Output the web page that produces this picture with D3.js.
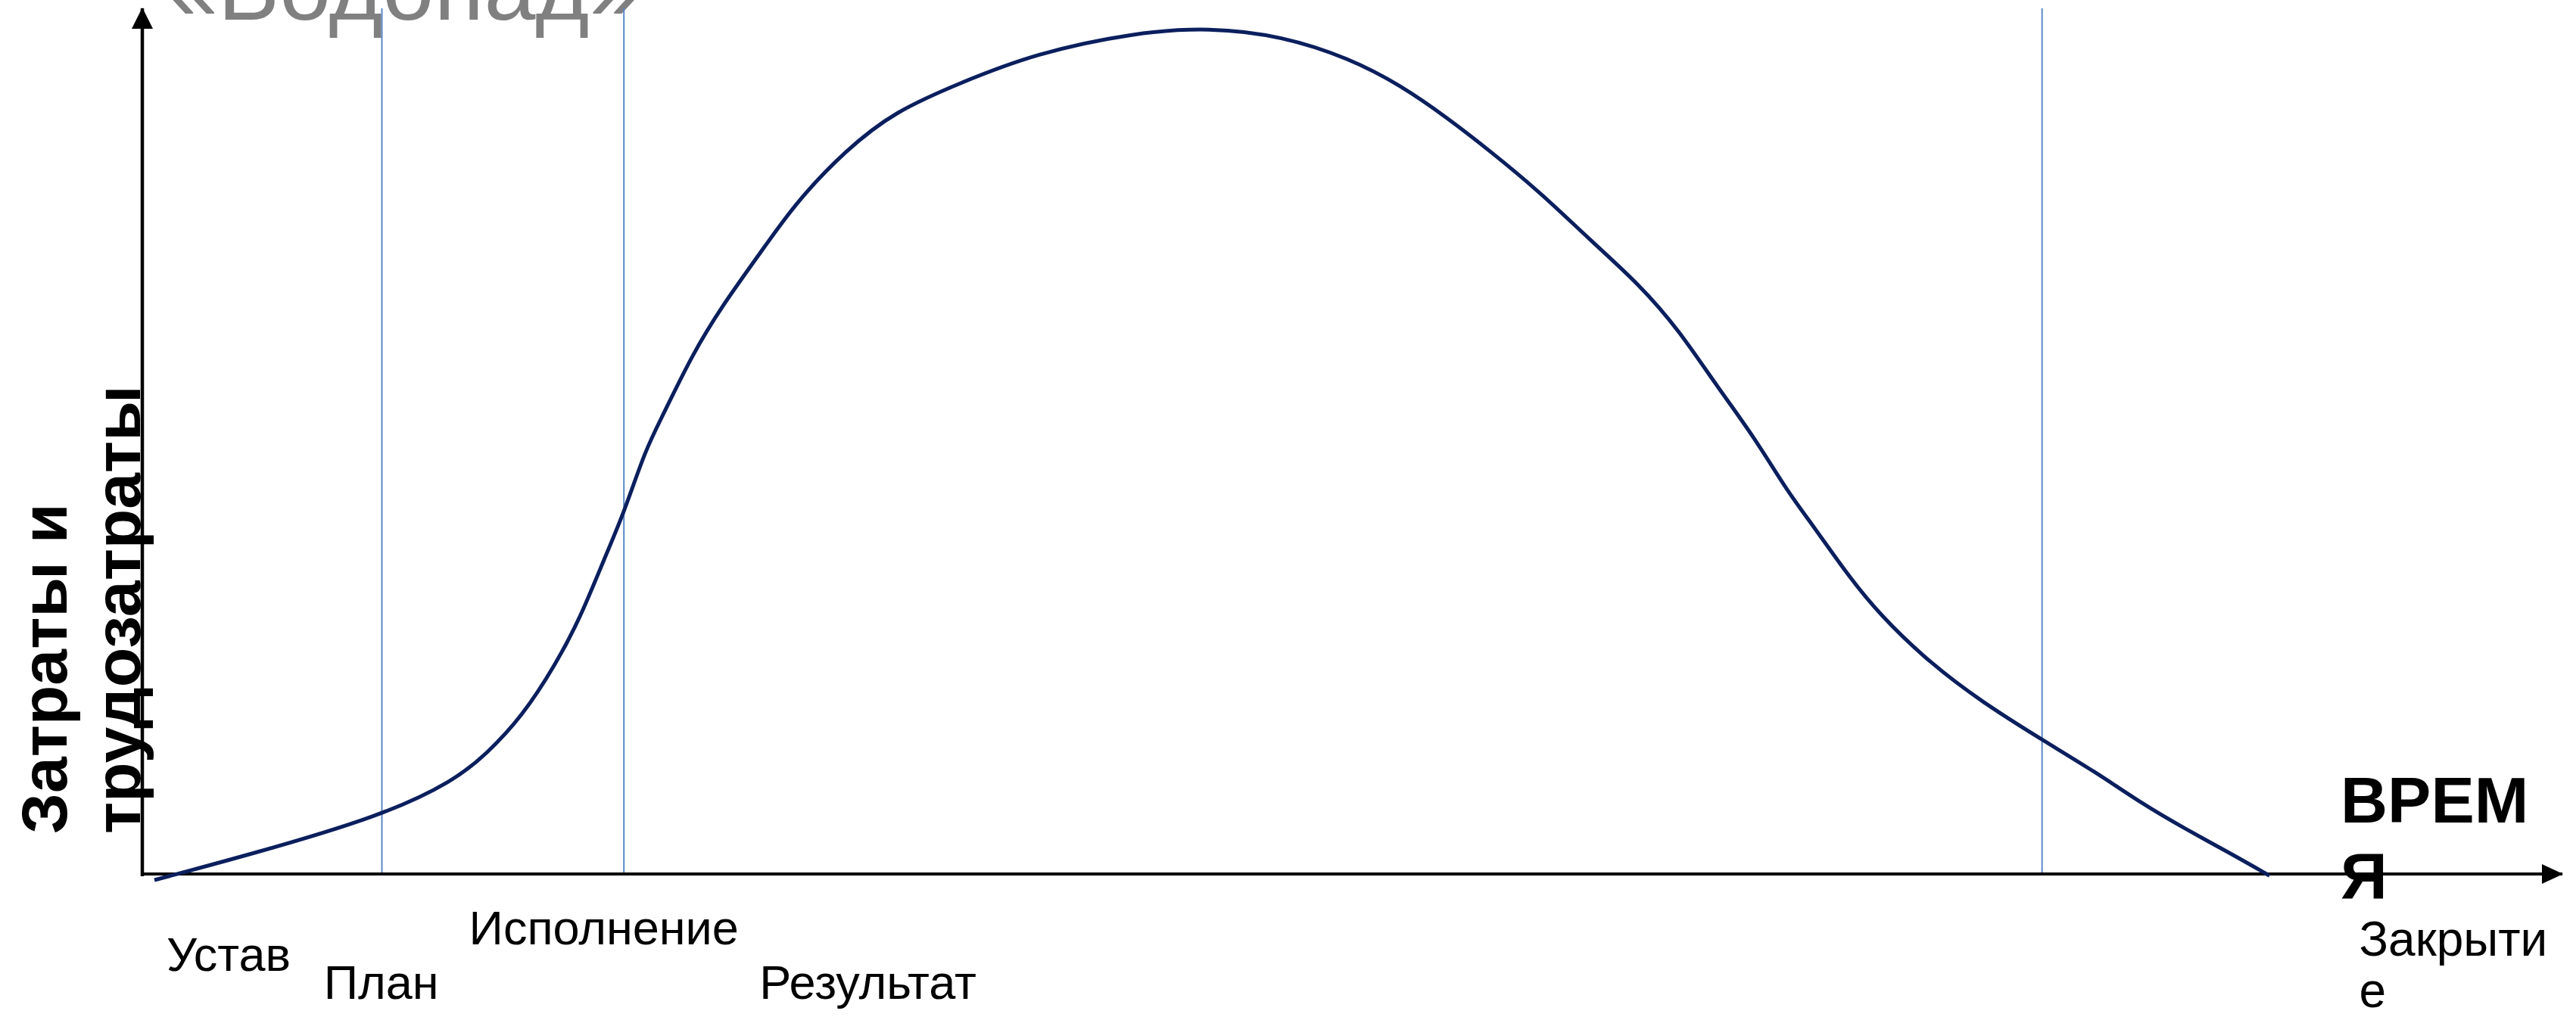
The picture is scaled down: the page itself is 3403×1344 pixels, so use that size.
<!DOCTYPE html>
<html>
<head>
<meta charset="utf-8">
<script src="https://cdn.jsdelivr.net/npm/d3@7"></script>
<style>
  html, body { margin: 0; padding: 0; background: #ffffff; overflow: hidden; }
  svg { display: block; }
</style>
</head>
<body>
<svg id="chart" width="3403" height="1344"></svg>
<script>
// ---------------- DATA ----------------
const chartTitle = "«Водопад»";
const yTitleLines = ["Затраты и", "трудозатраты"];
const xTitleLines = ["ВРЕМ", "Я"];

// time (0..100) along the x axis, effort (0..100) up the y axis
const curveTime   = [0.5, 4.4, 9.9, 12.9, 14.2, 15.7, 17.1, 18.1, 19.1, 19.9, 20.8, 21.5, 22.7, 24.0, 25.4, 27.0, 29.1, 31.1, 33.8, 36.9, 41.0, 44.1, 47.1, 49.9, 52.0, 53.9, 55.7, 57.7, 59.8, 61.9, 63.5, 65.0, 66.6, 68.0, 69.0, 70.4, 71.8, 73.9, 76.0, 78.5, 80.7, 82.7, 84.3, 86.4, 87.9];
const curveEffort = [-0.7, 2.2, 6.7, 10.8, 13.8, 18.2, 24.3, 29.6, 36.5, 41.7, 49.1, 52.9, 59.9, 65.8, 71.2, 77.6, 83.7, 88.1, 91.4, 94.8, 97.2, 97.8, 96.8, 94.2, 91.1, 87.4, 83.5, 78.9, 73.3, 68.0, 62.8, 56.6, 50.5, 44.1, 40.4, 34.8, 29.9, 24.3, 19.9, 15.5, 11.8, 8.0, 5.4, 2.2, -0.2];

const phaseBoundaries = [9.9, 19.9, 78.5];

const phaseLabels = ["Устав", "План", "Исполнение", "Результат", "Закрыти", "е"];
// label anchor along time axis (start of text)
const phaseLabelTime = [1.0, 7.5, 13.5, 25.5, 91.6, 91.6];

// ---------------- LAYOUT ----------------
const svg = d3.select("#chart");
const x = d3.scaleLinear().domain([0, 100]).range([188, 3385]);
const y = d3.scaleLinear().domain([0, 100]).range([1155, 11]);

const FONT = "'Liberation Sans', Arial, Helvetica, sans-serif";
const phaseLabelBaseline = [1283, 1320, 1248, 1320, 1263, 1331];

const defs = svg.append("defs");
defs.append("marker")
  .attr("id", "arrowUp")
  .attr("markerUnits", "userSpaceOnUse")
  .attr("viewBox", "0 0 28 28")
  .attr("refX", 27).attr("refY", 14)
  .attr("markerWidth", 28).attr("markerHeight", 28)
  .attr("orient", "auto")
  .append("path").attr("d", "M0,0 L28,14 L0,28 Z").attr("fill", "#000");
defs.append("marker")
  .attr("id", "arrowRight")
  .attr("markerUnits", "userSpaceOnUse")
  .attr("viewBox", "0 0 28 26")
  .attr("refX", 27).attr("refY", 13)
  .attr("markerWidth", 28).attr("markerHeight", 26)
  .attr("orient", "auto")
  .append("path").attr("d", "M0,0 L28,13 L0,26 Z").attr("fill", "#000");

// title (partially above top edge, as in the original slide)
svg.append("text")
  .attr("x", 220).attr("y", 26)
  .attr("font-family", FONT)
  .attr("font-size", 122)
  .attr("fill", "#808080")
  .text(chartTitle);

// phase boundary lines
svg.append("g").selectAll("line")
  .data(phaseBoundaries)
  .join("line")
  .attr("x1", d => x(d)).attr("x2", d => x(d))
  .attr("y1", y(100)).attr("y2", y(0))
  .attr("stroke", "#5b89c7")
  .attr("stroke-width", 2);

// axes
svg.append("line")
  .attr("x1", x(0)).attr("y1", y(0) + 3)
  .attr("x2", x(0)).attr("y2", y(100))
  .attr("stroke", "#000").attr("stroke-width", 4.5)
  .attr("marker-end", "url(#arrowUp)");
svg.append("line")
  .attr("x1", x(0) - 2).attr("y1", y(0))
  .attr("x2", x(100)).attr("y2", y(0))
  .attr("stroke", "#000").attr("stroke-width", 4)
  .attr("marker-end", "url(#arrowRight)");

// curve
const pts = curveTime.map((t, i) => [t, curveEffort[i]]);
const line = d3.line()
  .x(d => x(d[0]))
  .y(d => y(d[1]))
  .curve(d3.curveBasis);
svg.append("path")
  .datum(pts)
  .attr("d", line)
  .attr("fill", "none")
  .attr("stroke", "#0b1f5e")
  .attr("stroke-width", 5);

// y title (rotated)
const yT = svg.append("g").attr("transform", "translate(0,1102) rotate(-90)");
yTitleLines.forEach((s, i) => {
  yT.append("text")
    .attr("x", 0).attr("y", [88, 185][i])
    .attr("font-family", FONT)
    .attr("font-weight", "bold")
    .attr("font-size", 86)
    .attr("fill", "#000")
    .text(s);
});

// x title
xTitleLines.forEach((s, i) => {
  svg.append("text")
    .attr("x", 3092).attr("y", [1087, 1187][i])
    .attr("font-family", FONT)
    .attr("font-weight", "bold")
    .attr("font-size", 86)
    .attr("fill", "#000")
    .text(s);
});

// phase labels
svg.append("g").selectAll("text")
  .data(phaseLabels)
  .join("text")
  .attr("x", (d, i) => x(phaseLabelTime[i]))
  .attr("y", (d, i) => phaseLabelBaseline[i])
  .attr("font-family", FONT)
  .attr("font-size", (d, i) => i >= 4 ? 64 : 63)
  .attr("fill", "#000")
  .text(d => d);
</script>
</body>
</html>
